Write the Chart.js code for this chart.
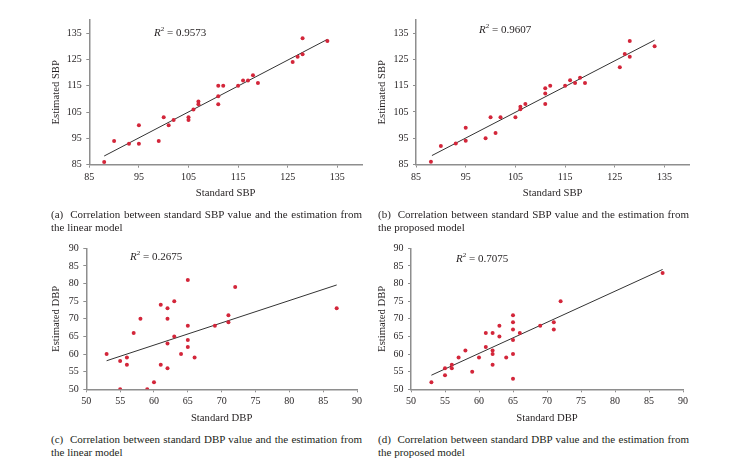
<!DOCTYPE html>
<html lang="en">
<head>
<meta charset="UTF-8">
<title>Standard vs estimated SBP / DBP</title>
<script src="https://cdn.jsdelivr.net/npm/chart.js"></script>
<style>
  body { margin: 0; background: #fff; width: 740px; height: 471px; position: relative; overflow: hidden;
         font-family: "Liberation Serif", "DejaVu Serif", serif; color: #231f20; }
  canvas { position: absolute; }
  .cap { position: absolute; font-size: 11px; line-height: 13px; text-align: justify; text-align-last: left; }
  .r2 { position: absolute; font-size: 11px; line-height: 12px; white-space: nowrap; }
  .r2 sup { font-size: 7px; vertical-align: 5px; line-height: 0; }
</style>
</head>
<body>

<canvas id="chartA" width="370" height="205" style="left:0;top:0"></canvas>
<canvas id="chartB" width="370" height="205" style="left:370px;top:0"></canvas>
<canvas id="chartC" width="370" height="200" style="left:0;top:230px"></canvas>
<canvas id="chartD" width="370" height="200" style="left:370px;top:230px"></canvas>

<div class="r2" style="left:154px;top:26px"><i>R</i><sup>2</sup> = 0.9573</div>
<div class="r2" style="left:479px;top:23px"><i>R</i><sup>2</sup> = 0.9607</div>
<div class="r2" style="left:130px;top:250px"><i>R</i><sup>2</sup> = 0.2675</div>
<div class="r2" style="left:456px;top:252px"><i>R</i><sup>2</sup> = 0.7075</div>

<div class="cap" style="left:51px;top:208px;width:311px">(a)&nbsp; Correlation between standard SBP value and the estimation from the linear model</div>
<div class="cap" style="left:378px;top:208px;width:311px">(b)&nbsp; Correlation between standard SBP value and the estimation from the proposed model</div>
<div class="cap" style="left:51px;top:433px;width:311px">(c)&nbsp; Correlation between standard DBP value and the estimation from the linear model</div>
<div class="cap" style="left:378px;top:433px;width:311px">(d)&nbsp; Correlation between standard DBP value and the estimation from the proposed model</div>

<script>
    // (a) SBP, linear model
    const sbpLinearStd = [88, 90, 93, 95, 95, 99, 100, 101, 102, 105, 105, 106, 107, 107, 111, 111, 111, 112, 115, 116, 117, 118, 119, 126, 127, 128, 128, 133];
    const sbpLinearEst = [86, 94, 93, 100, 93, 94, 103, 100, 102, 103, 102, 106, 109, 108, 115, 111, 108, 115, 115, 117, 117, 119, 116, 124, 126, 127, 133, 132];
    const sbpLinearFit = [[88, 88.3], [133, 132.6]];

    // (b) SBP, proposed model
    const sbpPropStd = [88, 90, 93, 95, 95, 99, 100, 101, 102, 105, 106, 106, 107, 111, 111, 111, 112, 115, 116, 117, 118, 119, 126, 127, 128, 128, 133];
    const sbpPropEst = [86, 92, 93, 99, 94, 95, 103, 97, 103, 103, 107, 106, 108, 114, 112, 108, 115, 115, 117, 116, 118, 116, 122, 127, 132, 126, 130];
    const sbpPropFit = [[88.2, 88.4], [133, 132.3]];

    // (c) DBP, linear model
    const dbpLinearStd = [53, 55, 55, 56, 56, 57, 58, 59, 60, 61, 61, 62, 62, 62, 62, 63, 63, 64, 65, 65, 65, 65, 66, 69, 71, 71, 72, 87];
    const dbpLinearEst = [60, 58, 50, 59, 57, 66, 70, 50, 52, 74, 57, 73, 70, 63, 56, 75, 65, 60, 81, 68, 64, 62, 59, 68, 71, 69, 79, 73];
    const dbpLinearFit = [[53, 58.1], [87, 79.6]];

    // (d) DBP, proposed model
    const dbpPropStd = [53, 55, 55, 56, 56, 57, 58, 59, 60, 61, 61, 62, 62, 62, 62, 63, 63, 64, 65, 65, 65, 65, 65, 65, 66, 69, 71, 71, 72, 87];
    const dbpPropEst = [52, 56, 54, 57, 56, 59, 61, 55, 59, 66, 62, 66, 61, 60, 57, 68, 65, 59, 71, 69, 67, 64, 60, 53, 66, 68, 69, 67, 75, 83];
    const dbpPropFit = [[53, 54], [87, 84]];

    const sbpTicks = [85, 95, 105, 115, 125, 135];
    const dbpTicks = [50, 55, 60, 65, 70, 75, 80, 85, 90];

    const axisGray = '#8e8e8e';
    const textColor = '#231f20';
    const titleFont = {family: '"Liberation Serif", serif', size: 10.7};
    const tickFont = {family: '"Liberation Serif", serif', size: 10};

    function toPoints(xs, ys) {
        return xs.map((x, i) => ({x: x, y: ys[i]}));
    }

    // p: canvas box + wanted plot area (page pixels) + title centres
    function makeChart(id, p) {
        const lh = titleFont.size * 1.2;
        const yWidth = p.L - p.cx;
        const xHeight = p.cy + p.h - p.B;

        function axis(isX) {
            return {
                type: 'linear',
                min: p.range[0],
                max: p.range[1],
                afterBuildTicks: s => { s.ticks = p.ticks.map(v => ({value: v})); },
                afterFit: s => {
                    if (isX) s.height = xHeight; else s.width = yWidth;
                },
                ticks: {color: textColor, font: tickFont, padding: isX ? 3.5 : 4.5},
                grid: {drawOnChartArea: false, drawTicks: true, tickLength: 3, color: axisGray, lineWidth: 1},
                border: {color: axisGray, width: 1.5},
                title: {
                    display: true,
                    text: isX ? p.xTitle : p.yTitle,
                    color: textColor,
                    font: titleFont,
                    padding: isX ? {top: 0, bottom: p.cy + p.h - lh / 2 - p.xTitleY}
                                 : {top: p.yTitleX - p.cx - lh / 2, bottom: 0}
                }
            };
        }

        return new Chart(document.getElementById(id), {
            type: 'scatter',
            data: {
                datasets: [{
                    data: toPoints(p.xs, p.ys),
                    backgroundColor: '#d3263a',
                    borderWidth: 0,
                    pointRadius: 2
                }, {
                    type: 'line',
                    data: p.fit.map(f => ({x: f[0], y: f[1]})),
                    borderColor: '#333333',
                    borderWidth: 1,
                    pointRadius: 0,
                    fill: false
                }]
            },
            options: {
                responsive: false,
                animation: false,
                devicePixelRatio: 1,
                layout: {padding: {left: 0, top: p.T - p.cy, right: p.cx + p.w - p.R, bottom: 0}},
                plugins: {legend: {display: false}, tooltip: {enabled: false}},
                scales: {x: axis(true), y: axis(false)}
            }
        });
    }

    makeChart('chartA', {
        cx: 0, cy: 0, w: 370, h: 205, L: 89.3, R: 362.1, T: 19.9, B: 164.7,
        xTitleY: 192.7, yTitleX: 55.8, range: [85, 140], ticks: sbpTicks,
        xTitle: 'Standard SBP', yTitle: 'Estimated SBP',
        xs: sbpLinearStd, ys: sbpLinearEst, fit: sbpLinearFit
    });
    makeChart('chartB', {
        cx: 370, cy: 0, w: 370, h: 205, L: 416, R: 689.4, T: 19.9, B: 164.5,
        xTitleY: 192.7, yTitleX: 382.5, range: [85, 140], ticks: sbpTicks,
        xTitle: 'Standard SBP', yTitle: 'Estimated SBP',
        xs: sbpPropStd, ys: sbpPropEst, fit: sbpPropFit
    });
    makeChart('chartC', {
        cx: 0, cy: 230, w: 370, h: 200, L: 86.3, R: 357, T: 248.3, B: 389.3,
        xTitleY: 417.7, yTitleX: 56, range: [50, 90], ticks: dbpTicks,
        xTitle: 'Standard DBP', yTitle: 'Estimated DBP',
        xs: dbpLinearStd, ys: dbpLinearEst, fit: dbpLinearFit
    });
    makeChart('chartD', {
        cx: 370, cy: 230, w: 370, h: 200, L: 411, R: 683, T: 248.3, B: 389.3,
        xTitleY: 417.7, yTitleX: 382, range: [50, 90], ticks: dbpTicks,
        xTitle: 'Standard DBP', yTitle: 'Estimated DBP',
        xs: dbpPropStd, ys: dbpPropEst, fit: dbpPropFit
    });
</script>
</body>
</html>
